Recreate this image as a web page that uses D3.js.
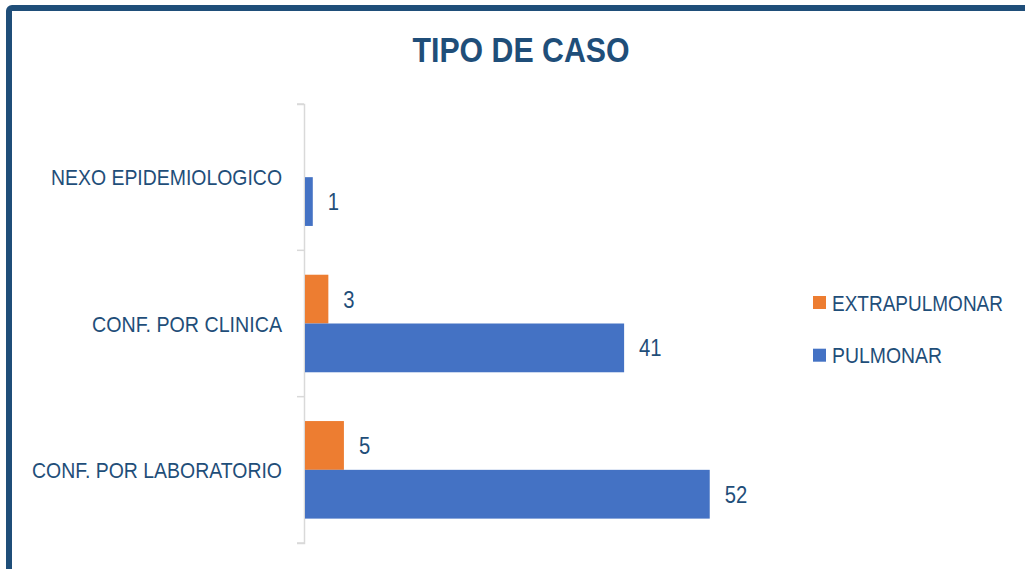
<!DOCTYPE html>
<html>
<head>
<meta charset="utf-8">
<script src="https://cdn.jsdelivr.net/npm/d3@7"></script>
<style>
  html, body { margin: 0; padding: 0; background: #fff; }
  svg { display: block; font-family: "Liberation Sans", Arial, sans-serif; }
</style>
</head>
<body>
<div id="chart"></div>
<script>
// data
const categories = ["NEXO EPIDEMIOLOGICO", "CONF. POR CLINICA", "CONF. POR LABORATORIO"];
const seriesNames = ["EXTRAPULMONAR", "PULMONAR"];
const extrapulmonar = [null, 3, 5];
const pulmonar = [1, 41, 52];
const seriesValues = [extrapulmonar, pulmonar];

const width = 1025, height = 569;
const textColor = "#1f4e79";
const colors = d3.scaleOrdinal().domain(seriesNames).range(["#ed7d31", "#4472c4"]);

// measured label widths (the original font is narrower than Liberation Sans)
const catWidths = { "NEXO EPIDEMIOLOGICO": 231, "CONF. POR CLINICA": 190, "CONF. POR LABORATORIO": 250 };

const svg = d3.select("#chart").append("svg")
    .attr("width", width)
    .attr("height", height);

// outer frame (runs off the right and bottom edges)
svg.append("rect")
    .attr("x", 9).attr("y", 8)
    .attr("width", 1100).attr("height", 620)
    .attr("rx", 3)
    .attr("fill", "#fff")
    .attr("stroke", "#1f4e79")
    .attr("stroke-width", 6);

// title
svg.append("text")
    .attr("x", 521).attr("y", 62)
    .attr("text-anchor", "middle")
    .attr("font-size", 35)
    .attr("font-weight", "bold")
    .attr("fill", textColor)
    .attr("textLength", 217)
    .attr("lengthAdjust", "spacingAndGlyphs")
    .text("TIPO DE CASO");

const y = d3.scaleBand()
    .domain(categories)
    .range([104, 543])
    .paddingInner(0)
    .paddingOuter(0);

const ySub = d3.scaleBand()
    .domain(seriesNames)
    .range([0, y.bandwidth()])
    .paddingInner(0)
    .paddingOuter(0.5);

const x = d3.scaleLinear()
    .domain([0, 60])
    .range([305, 772]);

// category axis
const axis = svg.append("g")
    .attr("transform", `translate(${x(0) - 1},0)`)
    .call(d3.axisLeft(y).tickSize(7).tickSizeOuter(7).tickFormat("").tickValues([]));
axis.select(".domain").attr("stroke", "#d9d9d9").attr("stroke-width", 1.5);

const tickYs = [y.range()[0]].concat(categories.map(c => y(c) + y.bandwidth()));
svg.append("g").selectAll("line")
    .data(tickYs)
    .join("line")
    .attr("x1", x(0) - 8).attr("x2", x(0) - 1)
    .attr("y1", d => d).attr("y2", d => d)
    .attr("stroke", "#d9d9d9")
    .attr("stroke-width", 1.5);

svg.append("g").selectAll("text")
    .data(categories)
    .join("text")
    .attr("x", 282)
    .attr("y", d => y(d) + y.bandwidth() / 2 + 8)
    .attr("text-anchor", "end")
    .attr("font-size", 22)
    .attr("fill", textColor)
    .attr("textLength", d => catWidths[d])
    .attr("lengthAdjust", "spacingAndGlyphs")
    .text(d => d);

// bars
const rows = [];
seriesNames.forEach((s, si) => {
  categories.forEach((c, ci) => {
    const v = seriesValues[si][ci];
    if (v != null) rows.push({ series: s, cat: c, value: v });
  });
});

svg.append("g").selectAll("rect")
    .data(rows)
    .join("rect")
    .attr("x", x(0))
    .attr("y", d => y(d.cat) + ySub(d.series))
    .attr("width", d => x(d.value) - x(0))
    .attr("height", ySub.bandwidth())
    .attr("fill", d => colors(d.series));

svg.append("g").selectAll("text")
    .data(rows)
    .join("text")
    .attr("x", d => x(d.value) + 15)
    .attr("y", d => y(d.cat) + ySub(d.series) + ySub.bandwidth() / 2 + 8.5)
    .attr("font-size", 23)
    .attr("fill", textColor)
    .attr("transform-origin", d => `${x(d.value) + 15} 0`)
    .attr("transform", "scale(0.88,1)")
    .text(d => d.value);

// legend
const legend = svg.append("g").selectAll("g")
    .data(seriesNames)
    .join("g")
    .attr("transform", (d, i) => `translate(813,${296 + i * 52.7})`);

legend.append("rect")
    .attr("width", 13).attr("height", 13)
    .attr("fill", d => colors(d));

legend.append("text")
    .attr("x", 19).attr("y", 14.7)
    .attr("font-size", 22)
    .attr("fill", textColor)
    .attr("textLength", d => d === "EXTRAPULMONAR" ? 171 : 110)
    .attr("lengthAdjust", "spacingAndGlyphs")
    .text(d => d);
</script>
</body>
</html>
